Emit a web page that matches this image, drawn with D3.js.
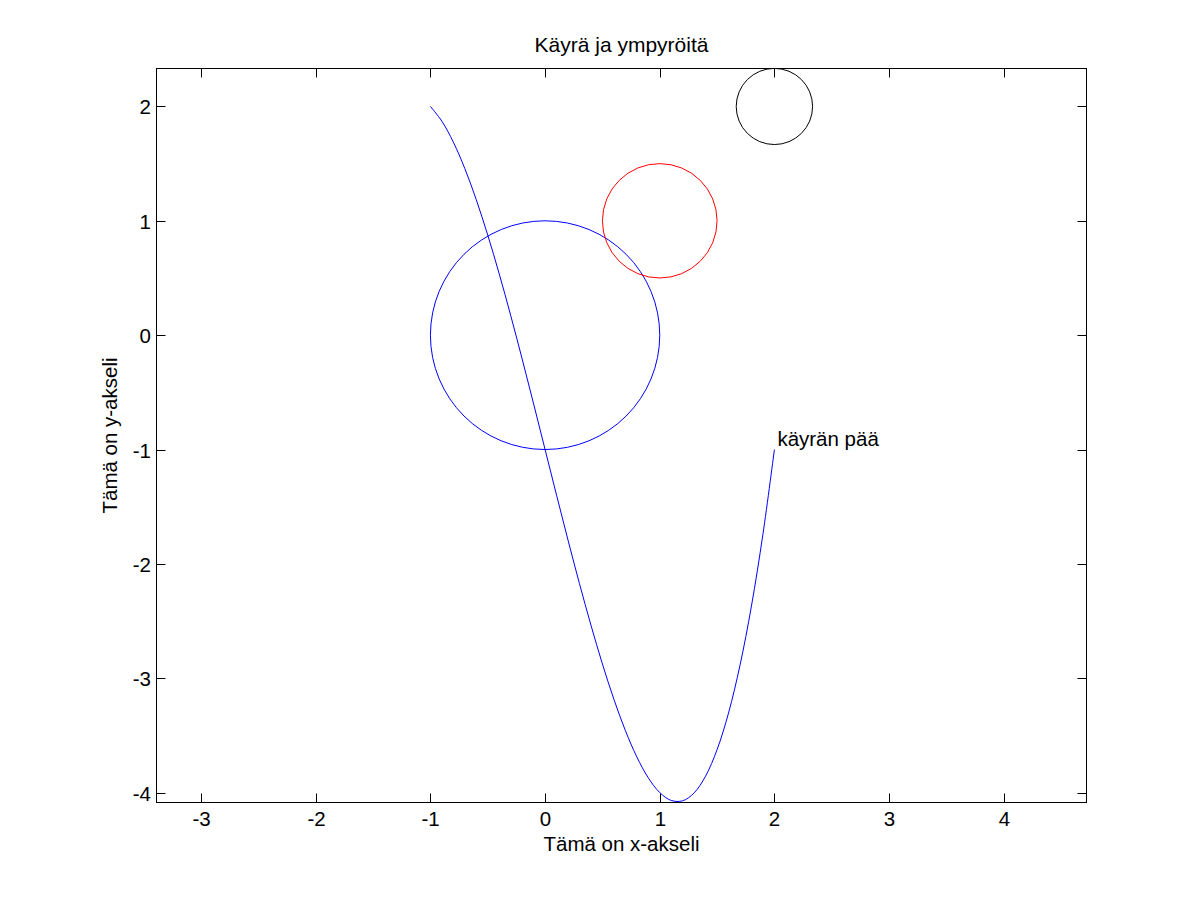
<!DOCTYPE html>
<html><head><meta charset="utf-8">
<script src="https://cdn.jsdelivr.net/npm/d3@7"></script>
<style>body{margin:0;background:#fff}svg text{font-family:"Liberation Sans",Arial,sans-serif;}</style>
</head><body>
<svg id="c" width="1201" height="901"></svg>
<script>
const curveX = [-1.0,-0.9,-0.8,-0.7,-0.6,-0.5,-0.4,-0.3,-0.2,-0.1,0.0,0.1,0.2,0.3,0.4,0.5,0.6,0.7,0.8,0.9,1.0,1.1,1.2,1.3,1.4,1.5,1.6,1.7,1.8,1.9,2.0];
const curveY = [2.0,1.871,1.688,1.457,1.184,0.875,0.536,0.173,-0.208,-0.601,-1.0,-1.399,-1.792,-2.173,-2.536,-2.875,-3.184,-3.457,-3.688,-3.871,-4.0,-4.069,-4.072,-4.003,-3.856,-3.625,-3.304,-2.887,-2.368,-1.741,-1.0];
const circleCx = [0, 1, 2];
const circleCy = [0, 1, 2];
const circleR = [1, 0.5, 0.333];
const circleColor = ["#0000ff", "#ff0000", "#000000"];
const xTicks = [-3,-2,-1,0,1,2,3,4];
const yTicks = [-4,-3,-2,-1,0,1,2];
const xDomain = [-3.389, 4.722];
const yDomain = [-4.087, 2.332];
const titleText = "Käyrä ja ympyröitä";
const xLabel = "Tämä on x-akseli";
const yLabel = "Tämä on y-akseli";
const noteText = "käyrän pää";
const notePos = [2, -1];

const L = 156.5, R = 1086.5, T = 68.5, B = 802.5;
const svg = d3.select("#c");
const x = d3.scaleLinear().domain(xDomain).range([L, R]);
const y = d3.scaleLinear().domain(yDomain).range([B, T]);

svg.append("defs").append("clipPath").attr("id","clip").append("rect")
  .attr("x", L).attr("y", T).attr("width", R-L).attr("height", B-T);

const tl = 9;
const fs = 20.5;
const ax = svg.append("g");
xTicks.forEach(t => {
  const px = Math.round(x(t)) + 0.5;
  ax.append("line").attr("x1",px).attr("x2",px).attr("y1",B).attr("y2",B-tl).attr("stroke","#000");
  ax.append("line").attr("x1",px).attr("x2",px).attr("y1",T).attr("y2",T+tl).attr("stroke","#000");
  ax.append("text").attr("x", px).attr("y", 826).attr("text-anchor","middle").attr("font-size",fs).text(t);
});
yTicks.forEach(t => {
  const py = Math.round(y(t)) + 0.5;
  ax.append("line").attr("x1",L).attr("x2",L+tl).attr("y1",py).attr("y2",py).attr("stroke","#000");
  ax.append("line").attr("x1",R).attr("x2",R-tl).attr("y1",py).attr("y2",py).attr("stroke","#000");
  ax.append("text").attr("x", 151).attr("y", py+7).attr("text-anchor","end").attr("font-size",fs).text(t);
});
svg.append("rect").attr("x",L).attr("y",T).attr("width",R-L).attr("height",B-T)
  .attr("fill","none").attr("stroke","#000").attr("stroke-width",1);

const plot = svg.append("g").attr("clip-path","url(#clip)");
const pts = curveX.map((v,i)=>[v, curveY[i]]);
plot.append("path").datum(pts)
  .attr("d", d3.line().x(d=>x(d[0])).y(d=>y(d[1])).curve(d3.curveCatmullRom))
  .attr("fill","none").attr("stroke","#0000ff").attr("stroke-width",1);
circleCx.forEach((cx,i)=>{
  plot.append("ellipse").attr("cx", x(cx)).attr("cy", y(circleCy[i]))
    .attr("rx", x(cx+circleR[i]) - x(cx)).attr("ry", y(circleCy[i]) - y(circleCy[i]+circleR[i]))
    .attr("fill","none").attr("stroke", circleColor[i]).attr("stroke-width",1);
});
svg.append("text").attr("x", x(notePos[0])+3).attr("y", y(notePos[1])-3.5).attr("font-size",fs).text(noteText);

svg.append("text").attr("x", (L+R)/2).attr("y", 52).attr("text-anchor","middle").attr("font-size",21).text(titleText);
svg.append("text").attr("x", (L+R)/2).attr("y", 851).attr("text-anchor","middle").attr("font-size",fs).text(xLabel);
svg.append("text").attr("transform", `translate(117,${(T+B)/2}) rotate(-90)`).attr("text-anchor","middle").attr("font-size",fs).text(yLabel);
</script>
</body></html>
